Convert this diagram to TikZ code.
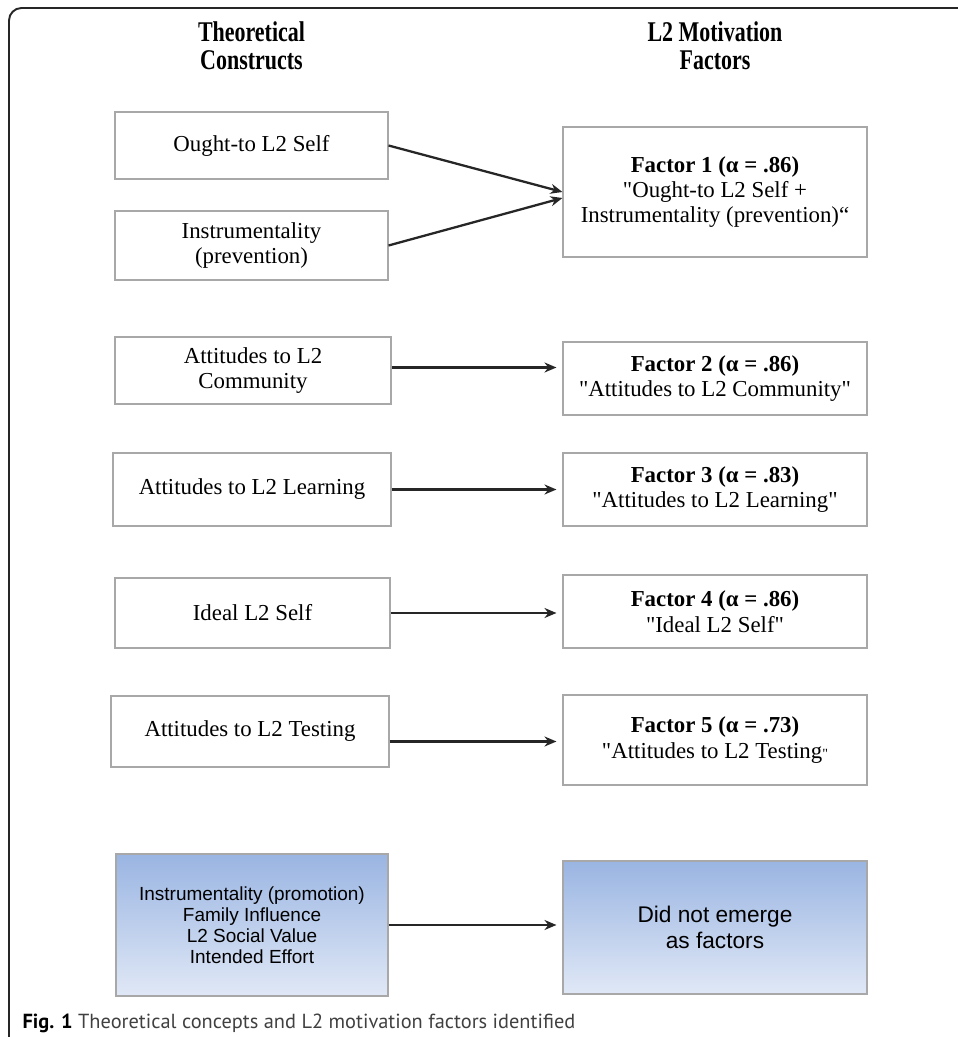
\documentclass[tikz,border=0pt]{standalone}
\usepackage{fontspec}
\setmainfont{Liberation Serif}
\setsansfont{Liberation Sans}
\newfontfamily\capfont{PT Sans}
\usetikzlibrary{arrows.meta}
\definecolor{boxgray}{HTML}{A8A8A8}
\definecolor{bluetop}{HTML}{9AB5E2}
\definecolor{bluebot}{HTML}{E0E8F6}
\newcommand{\qt}{\XeTeXglyph\XeTeXcharglyph"22\relax}

\begin{document}
\begin{tikzpicture}[font=\fontsize{13}{14.5}\selectfont, line width=0.6pt,
        whitebox/.style={draw=boxgray, align=center, inner sep=0pt},
        bluebox/.style={draw=boxgray, top color=bluetop, bottom color=bluebot, align=center, inner sep=0pt},
        head/.style={font=\bfseries\fontsize{12.5}{12.2}\selectfont, align=center, yscale=1.3, transform shape},
        arr/.style={-{Stealth[length=2.4mm, width=2mm]}, line width=1.3pt, black!85}]
        \useasboundingbox (0,0) rectangle (19.16,20.74);
        \draw[line width=1.1pt, black!85, rounded corners=0.25cm] (0.18,0) -- (0.18,20.58) -- (19.16,20.58);

        \node[head](hl) at (5.03, 19.82) {Theoretical\\Constructs};
        \node[head](hr) at (14.30, 19.82) {L2 Motivation\\Factors};

        \node[whitebox, minimum width=5.46cm, minimum height=1.34cm](ought) at (5.03, 17.83) {Ought-to L2 Self};
        \node[whitebox, minimum width=5.46cm, minimum height=1.38cm](instr) at (5.03, 15.83) {Instrumentality\\(prevention)};
        \node[whitebox, minimum width=5.52cm, minimum height=1.34cm](comm) at (5.06, 13.33) {Attitudes to L2\\Community};
        \node[whitebox, minimum width=5.56cm, minimum height=1.46cm](learn) at (5.04, 10.95) {Attitudes to L2 Learning};
        \node[whitebox, minimum width=5.5cm, minimum height=1.40cm](ideal) at (5.05, 8.48) {Ideal L2 Self};
        \node[whitebox, minimum width=5.56cm, minimum height=1.42cm](test) at (5.0, 6.11) {Attitudes to L2 Testing};
        \node[bluebox, minimum width=5.44cm, minimum height=2.84cm, font=\sffamily\fontsize{10.8}{11.9}\selectfont](other) at (5.04, 2.24)
            {Instrumentality (promotion)\\Family Influence\\L2 Social Value\\Intended Effort};

        \node[whitebox, minimum width=6.08cm, minimum height=2.6cm, font=\fontsize{13}{14.2}\selectfont](f1) at (14.30, 16.90)
            {\textbf{Factor 1 (α = .86)}\\\qt Ought-to L2 Self +\\Instrumentality (prevention)“};
        \node[whitebox, minimum width=6.08cm, minimum height=1.46cm](f2) at (14.30, 13.17)
            {\textbf{Factor 2 (α = .86)}\\\qt Attitudes to L2 Community\qt};
        \node[whitebox, minimum width=6.08cm, minimum height=1.46cm](f3) at (14.30, 10.95)
            {\textbf{Factor 3 (α = .83)}\\\qt Attitudes to L2 Learning\qt};
        \node[whitebox, minimum width=6.08cm, minimum height=1.46cm](f4) at (14.30, 8.51)
            {\textbf{Factor 4 (α = .86)}\\\qt Ideal L2 Self\qt};
        \node[whitebox, minimum width=6.08cm, minimum height=1.8cm](f5) at (14.30, 5.94)
            {\textbf{Factor 5 (α = .73)}\\\qt Attitudes to L2 Testing{\footnotesize\qt}};
        \node[bluebox, minimum width=6.08cm, minimum height=2.66cm, font=\sffamily\fontsize{12.9}{14.8}\selectfont](none) at (14.30, 2.19)
            {Did not emerge\\as factors};

        \draw[arr] (ought.east) -- (f1.west);
        \draw[arr] (instr.east) -- ([yshift=-1.2mm]f1.west);
        \draw[arr, shorten >=1.2mm] ([yshift=0.6mm]comm.east) -- ([yshift=0.6mm]comm.east -| f2.west);
        \draw[arr, shorten >=1.2mm] (learn.east) -- (learn.east -| f3.west);
        \draw[arr, shorten >=1.2mm] (ideal.east) -- (ideal.east -| f4.west);
        \draw[arr, shorten >=1.2mm] ([yshift=-2mm]test.east) -- ([yshift=-2mm]test.east -| f5.west);
        \draw[arr, shorten >=1.2mm] (other.east) -- (other.east -| none.west);

        \node[anchor=west, inner sep=0pt, font=\capfont\fontsize{11.6}{13}\selectfont, text=black!75](cap) at (0.44, 0.28)
            {\textbf{\color{black}Fig. 1} Theoretical concepts and L2 motivation factors identified};
\end{tikzpicture}
\end{document}
